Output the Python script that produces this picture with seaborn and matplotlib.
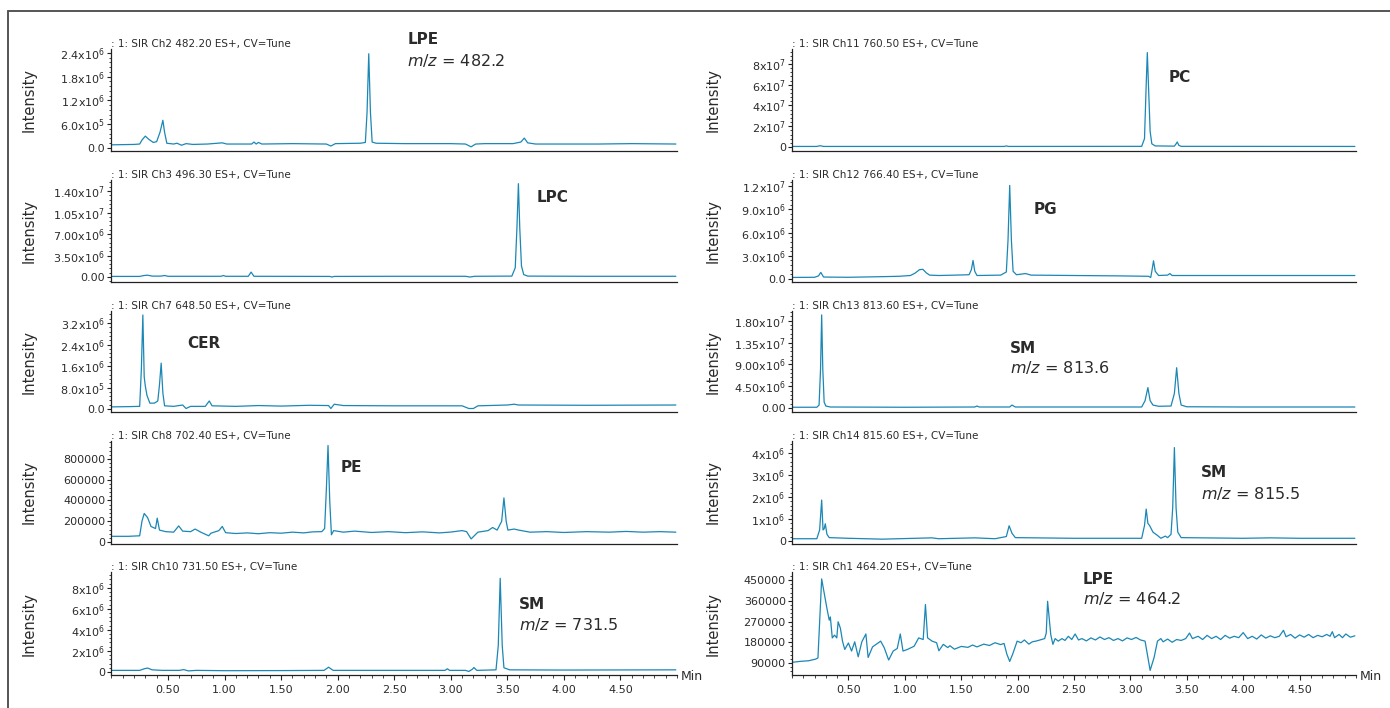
import matplotlib
matplotlib.use("Agg")
import matplotlib.pyplot as plt
from matplotlib.lines import Line2D
from matplotlib.ticker import FixedLocator, AutoMinorLocator, MultipleLocator
import seaborn as sns

# ---- chromatogram traces (time in min, intensity) ----
ch2_t = [0.0, 0.1, 0.2, 0.25, 0.27, 0.30, 0.33, 0.37, 0.40, 0.43, 0.455, 0.47, 0.49, 0.55, 0.58, 0.62,
         0.66, 0.72, 0.85, 0.98, 1.02, 1.24, 1.26, 1.28, 1.30, 1.33, 1.6, 1.9, 1.94, 1.98, 2.2, 2.245,
         2.26, 2.275, 2.29, 2.305, 2.34, 2.6, 3.0, 3.13, 3.18, 3.22, 3.3, 3.55, 3.62, 3.65, 3.68, 3.75,
         4.0, 4.3, 4.6, 4.99]
ch2_i = [0.08e6, 0.085e6, 0.09e6, 0.1e6, 0.2e6, 0.30e6, 0.22e6, 0.14e6, 0.16e6, 0.40e6, 0.70e6, 0.40e6,
         0.12e6, 0.10e6, 0.12e6, 0.07e6, 0.11e6, 0.09e6, 0.10e6, 0.13e6, 0.10e6, 0.10e6, 0.15e6, 0.10e6,
         0.14e6, 0.10e6, 0.11e6, 0.10e6, 0.05e6, 0.11e6, 0.12e6, 0.14e6, 0.9e6, 2.38e6, 0.9e6, 0.15e6,
         0.12e6, 0.11e6, 0.11e6, 0.10e6, 0.03e6, 0.10e6, 0.11e6, 0.11e6, 0.15e6, 0.25e6, 0.13e6, 0.10e6,
         0.10e6, 0.10e6, 0.11e6, 0.10e6]

ch3_t = [0.0, 0.25, 0.29, 0.32, 0.36, 0.44, 0.47, 0.50, 0.97, 0.99, 1.01, 1.21, 1.235, 1.26, 1.93, 1.95,
         1.97, 2.5, 3.13, 3.17, 3.21, 3.54, 3.57, 3.585, 3.598, 3.61, 3.625, 3.645, 3.68, 4.2, 4.99]
ch3_i = [0.1e6, 0.1e6, 0.25e6, 0.3e6, 0.15e6, 0.15e6, 0.25e6, 0.12e6, 0.12e6, 0.25e6, 0.12e6, 0.12e6,
         0.8e6, 0.12e6, 0.1e6, 0.0, 0.1e6, 0.12e6, 0.12e6, 0.0, 0.12e6, 0.15e6, 1.5e6, 8e6, 1.52e7, 8e6,
         1.8e6, 0.4e6, 0.15e6, 0.12e6, 0.12e6]

ch7_t = [0.0, 0.15, 0.25, 0.265, 0.278, 0.29, 0.30, 0.315, 0.34, 0.38, 0.41, 0.425, 0.44, 0.455, 0.47,
         0.55, 0.63, 0.66, 0.70, 0.83, 0.865, 0.89, 1.1, 1.30, 1.5, 1.75, 1.92, 1.94, 1.97, 2.05, 2.5,
         3.1, 3.16, 3.2, 3.24, 3.5, 3.56, 3.6, 4.2, 4.99]
ch7_i = [0.08e6, 0.09e6, 0.1e6, 1.5e6, 3.5e6, 1.2e6, 0.85e6, 0.5e6, 0.22e6, 0.22e6, 0.3e6, 0.9e6, 1.71e6,
         0.6e6, 0.12e6, 0.1e6, 0.15e6, 0.02e6, 0.1e6, 0.1e6, 0.3e6, 0.12e6, 0.1e6, 0.13e6, 0.11e6, 0.14e6,
         0.13e6, 0.02e6, 0.18e6, 0.13e6, 0.12e6, 0.12e6, 0.02e6, 0.02e6, 0.12e6, 0.15e6, 0.18e6, 0.15e6,
         0.14e6, 0.15e6]

ch8_t = [0.0, 0.15, 0.25, 0.27, 0.29, 0.32, 0.35, 0.39, 0.405, 0.425, 0.48, 0.55, 0.595, 0.63, 0.70,
         0.74, 0.79, 0.86, 0.88, 0.95, 0.98, 1.01, 1.1, 1.2, 1.3, 1.4, 1.5, 1.6, 1.7, 1.78, 1.86, 1.885,
         1.90, 1.915, 1.93, 1.945, 1.965, 2.05, 2.15, 2.3, 2.45, 2.6, 2.75, 2.9, 3.0, 3.1, 3.14, 3.18,
         3.24, 3.33, 3.37, 3.41, 3.45, 3.47, 3.49, 3.505, 3.56, 3.6, 3.7, 3.85, 4.0, 4.2, 4.4, 4.55, 4.7,
         4.85, 4.99]
ch8_i = [55e3, 55e3, 60e3, 200e3, 275e3, 235e3, 150e3, 130e3, 230e3, 115e3, 100e3, 95e3, 155e3, 105e3,
         100e3, 125e3, 95e3, 60e3, 85e3, 110e3, 150e3, 90e3, 82e3, 88e3, 80e3, 90e3, 85e3, 95e3, 88e3,
         98e3, 100e3, 130e3, 500e3, 930e3, 400e3, 70e3, 110e3, 95e3, 105e3, 92e3, 100e3, 90e3, 98e3,
         88e3, 96e3, 110e3, 100e3, 30e3, 95e3, 110e3, 140e3, 115e3, 200e3, 425e3, 200e3, 115e3, 125e3,
         115e3, 95e3, 100e3, 92e3, 100e3, 95e3, 102e3, 95e3, 100e3, 95e3]

ch10_t = [0.0, 0.25, 0.29, 0.32, 0.36, 0.45, 0.6, 0.64, 0.68, 0.75, 1.0, 1.5, 1.88, 1.92, 1.96, 2.5,
          2.95, 2.97, 2.99, 3.13, 3.16, 3.19, 3.205, 3.23, 3.40, 3.42, 3.437, 3.455, 3.47, 3.52, 4.0, 4.99]
ch10_i = [0.15e6, 0.15e6, 0.3e6, 0.37e6, 0.2e6, 0.15e6, 0.15e6, 0.22e6, 0.1e6, 0.15e6, 0.12e6, 0.13e6,
          0.15e6, 0.45e6, 0.15e6, 0.15e6, 0.15e6, 0.3e6, 0.15e6, 0.15e6, 0.05e6, 0.25e6, 0.42e6, 0.15e6,
          0.2e6, 2.5e6, 8.9e6, 2.5e6, 0.4e6, 0.2e6, 0.18e6, 0.2e6]

ch11_t = [0.0, 0.22, 0.25, 0.28, 1.88, 1.90, 1.92, 3.10, 3.125, 3.14, 3.15, 3.16, 3.175, 3.19, 3.22,
          3.39, 3.405, 3.415, 3.43, 3.45, 4.99]
ch11_i = [0.5e6, 0.5e6, 1.2e6, 0.5e6, 0.5e6, 1.0e6, 0.5e6, 0.6e6, 8e6, 6e7, 9.1e7, 6e7, 1.5e7, 3e6, 1e6,
          0.8e6, 3e6, 4.8e6, 1.5e6, 0.6e6, 0.5e6]

ch12_t = [0.0, 0.2, 0.235, 0.255, 0.28, 0.5, 0.8, 0.95, 1.05, 1.09, 1.13, 1.16, 1.19, 1.22, 1.30, 1.45,
          1.57, 1.59, 1.605, 1.62, 1.64, 1.85, 1.90, 1.915, 1.93, 1.945, 1.96, 1.99, 2.07, 2.12, 2.5, 2.9,
          3.16, 3.18, 3.19, 3.205, 3.22, 3.25, 3.33, 3.35, 3.37, 3.8, 4.3, 4.99]
ch12_i = [0.2e6, 0.22e6, 0.4e6, 0.85e6, 0.25e6, 0.22e6, 0.3e6, 0.35e6, 0.45e6, 0.75e6, 1.2e6, 1.25e6,
          0.8e6, 0.5e6, 0.45e6, 0.5e6, 0.55e6, 1.2e6, 2.4e6, 1.0e6, 0.45e6, 0.5e6, 0.9e6, 5e6, 1.21e7,
          5e6, 1.0e6, 0.55e6, 0.7e6, 0.5e6, 0.45e6, 0.4e6, 0.35e6, 0.2e6, 1.0e6, 2.35e6, 1.0e6, 0.45e6,
          0.5e6, 0.7e6, 0.45e6, 0.45e6, 0.45e6, 0.45e6]

ch13_t = [0.0, 0.22, 0.24, 0.253, 0.263, 0.273, 0.285, 0.30, 0.34, 1.0, 1.62, 1.64, 1.66, 1.93, 1.95,
          1.98, 3.10, 3.13, 3.155, 3.175, 3.20, 3.25, 3.36, 3.39, 3.41, 3.43, 3.45, 3.5, 4.0, 4.99]
ch13_i = [0.15e6, 0.15e6, 0.6e6, 8e6, 1.92e7, 8e6, 1.2e6, 0.4e6, 0.2e6, 0.15e6, 0.2e6, 0.4e6, 0.2e6,
          0.2e6, 0.6e6, 0.2e6, 0.2e6, 1.5e6, 4.2e6, 1.5e6, 0.6e6, 0.35e6, 0.4e6, 3e6, 8.3e6, 3e6, 0.6e6,
          0.25e6, 0.2e6, 0.2e6]

ch14_t = [0.0, 0.22, 0.245, 0.263, 0.275, 0.285, 0.295, 0.31, 0.33, 0.5, 0.8, 1.24, 1.3, 1.62, 1.8, 1.9,
          1.925, 1.95, 1.98, 2.5, 3.1, 3.125, 3.14, 3.155, 3.17, 3.20, 3.24, 3.27, 3.31, 3.33, 3.36, 3.375,
          3.39, 3.405, 3.42, 3.45, 4.0, 4.24, 4.5, 4.99]
ch14_i = [0.1e6, 0.1e6, 0.5e6, 1.86e6, 0.5e6, 0.55e6, 0.78e6, 0.3e6, 0.15e6, 0.12e6, 0.08e6, 0.14e6,
          0.1e6, 0.14e6, 0.1e6, 0.2e6, 0.69e6, 0.35e6, 0.15e6, 0.12e6, 0.12e6, 0.7e6, 1.45e6, 0.8e6,
          0.7e6, 0.4e6, 0.25e6, 0.12e6, 0.22e6, 0.15e6, 0.3e6, 1.5e6, 4.25e6, 1.5e6, 0.4e6, 0.15e6,
          0.12e6, 0.14e6, 0.12e6, 0.12e6]

ch1_t = [0.0, 0.07, 0.15, 0.21, 0.23, 0.263, 0.31, 0.33, 0.34, 0.357, 0.377, 0.397, 0.409, 0.429, 0.448,
         0.468, 0.5, 0.528, 0.556, 0.587, 0.619, 0.655, 0.675, 0.714, 0.746, 0.786, 0.817, 0.857, 0.897,
         0.933, 0.96, 0.984, 1.024, 1.083, 1.123, 1.163, 1.183, 1.202, 1.242, 1.282, 1.302, 1.341, 1.381,
         1.40, 1.44, 1.50, 1.56, 1.60, 1.64, 1.70, 1.75, 1.80, 1.85, 1.88, 1.905, 1.93, 1.956, 1.996,
         2.03, 2.06, 2.10, 2.13, 2.17, 2.21, 2.24, 2.254, 2.266, 2.294, 2.313, 2.333, 2.36, 2.393, 2.42,
         2.45, 2.48, 2.51, 2.54, 2.57, 2.61, 2.65, 2.69, 2.73, 2.77, 2.81, 2.85, 2.89, 2.93, 2.97, 3.01,
         3.05, 3.09, 3.13, 3.15, 3.175, 3.21, 3.24, 3.27, 3.29, 3.33, 3.37, 3.41, 3.45, 3.49, 3.524, 3.55,
         3.6, 3.64, 3.68, 3.72, 3.76, 3.80, 3.84, 3.88, 3.92, 3.96, 4.0, 4.04, 4.08, 4.12, 4.16, 4.20,
         4.24, 4.28, 4.32, 4.357, 4.38, 4.42, 4.46, 4.50, 4.54, 4.58, 4.62, 4.66, 4.70, 4.74, 4.77, 4.79,
         4.81, 4.85, 4.88, 4.91, 4.95, 4.99]
ch1_i = [93e3, 97e3, 100e3, 107e3, 112e3, 455e3, 326e3, 276e3, 290e3, 199e3, 211e3, 199e3, 269e3, 241e3,
         184e3, 149e3, 177e3, 142e3, 182e3, 117e3, 182e3, 216e3, 114e3, 160e3, 171e3, 185e3, 157e3,
         103e3, 142e3, 153e3, 216e3, 142e3, 149e3, 163e3, 199e3, 192e3, 344e3, 199e3, 185e3, 178e3,
         143e3, 171e3, 157e3, 165e3, 150e3, 162e3, 158e3, 168e3, 160e3, 172e3, 166e3, 178e3, 170e3,
         175e3, 128e3, 97e3, 128e3, 185e3, 178e3, 190e3, 172e3, 182e3, 186e3, 192e3, 196e3, 220e3,
         358e3, 213e3, 171e3, 196e3, 185e3, 196e3, 188e3, 206e3, 192e3, 216e3, 190e3, 196e3, 186e3,
         199e3, 190e3, 203e3, 192e3, 200e3, 188e3, 196e3, 186e3, 199e3, 192e3, 201e3, 190e3, 185e3,
         128e3, 58e3, 114e3, 185e3, 196e3, 182e3, 194e3, 180e3, 192e3, 188e3, 196e3, 220e3, 196e3,
         206e3, 192e3, 210e3, 196e3, 206e3, 192e3, 210e3, 198e3, 206e3, 200e3, 222e3, 196e3, 206e3,
         194e3, 212e3, 198e3, 208e3, 200e3, 206e3, 232e3, 204e3, 214e3, 198e3, 212e3, 202e3, 214e3,
         200e3, 210e3, 204e3, 214e3, 206e3, 226e3, 200e3, 214e3, 200e3, 216e3, 202e3, 208e3]

# ---- axis ticks / labels ----
ch2_ticks, ch2_labels = [0, 6e5, 1.2e6, 1.8e6, 2.4e6], ["0.0", "6.0x10^5", "1.2x10^6", "1.8x10^6", "2.4x10^6"]
ch3_ticks, ch3_labels = [0, 3.5e6, 7e6, 1.05e7, 1.4e7], ["0.00", "3.50x10^6", "7.00x10^6", "1.05x10^7", "1.40x10^7"]
ch7_ticks, ch7_labels = [0, 8e5, 1.6e6, 2.4e6, 3.2e6], ["0.0", "8.0x10^5", "1.6x10^6", "2.4x10^6", "3.2x10^6"]
ch8_ticks, ch8_labels = [0, 2e5, 4e5, 6e5, 8e5], ["0", "200000", "400000", "600000", "800000"]
ch10_ticks, ch10_labels = [0, 2e6, 4e6, 6e6, 8e6], ["0", "2x10^6", "4x10^6", "6x10^6", "8x10^6"]
ch11_ticks, ch11_labels = [0, 2e7, 4e7, 6e7, 8e7], ["0", "2x10^7", "4x10^7", "6x10^7", "8x10^7"]
ch12_ticks, ch12_labels = [0, 3e6, 6e6, 9e6, 1.2e7], ["0.0", "3.0x10^6", "6.0x10^6", "9.0x10^6", "1.2x10^7"]
ch13_ticks, ch13_labels = [0, 4.5e6, 9e6, 1.35e7, 1.8e7], ["0.00", "4.50x10^6", "9.00x10^6", "1.35x10^7", "1.80x10^7"]
ch14_ticks, ch14_labels = [0, 1e6, 2e6, 3e6, 4e6], ["0", "1x10^6", "2x10^6", "3x10^6", "4x10^6"]
ch1_ticks, ch1_labels = [90000, 180000, 270000, 360000, 450000], ["90000", "180000", "270000", "360000", "450000"]

time_ticks = [0.5, 1.0, 1.5, 2.0, 2.5, 3.0, 3.5, 4.0, 4.5]

TRACE = "#1b87b5"
TEXT = "#2b2b2b"


def sup(label):
    if "^" in label:
        base, exp = label.split("^")
        return base + r"$^{\mathregular{" + exp + "}}$"
    return label


# (column, row, title, t, i, ticks, labels, ylim, notes)
# notes: (x, y, text, bold) in axes fraction
panels = [
    (0, 0, ": 1: SIR Ch2 482.20 ES+, CV=Tune", ch2_t, ch2_i, ch2_ticks, ch2_labels, (-0.076e6, 2.5e6),
     [(0.523, 1.098, "LPE", True), (0.523, 0.892, r"$m/z$ = 482.2", False)]),
    (0, 1, ": 1: SIR Ch3 496.30 ES+, CV=Tune", ch3_t, ch3_i, ch3_ticks, ch3_labels, (-0.81e6, 1.58e7),
     [(0.751, 0.824, "LPC", True)]),
    (0, 2, ": 1: SIR Ch7 648.50 ES+, CV=Tune", ch7_t, ch7_i, ch7_ticks, ch7_labels, (-0.11e6, 3.65e6),
     [(0.134, 0.683, "CER", True)]),
    (0, 3, ": 1: SIR Ch8 702.40 ES+, CV=Tune", ch8_t, ch8_i, ch8_ticks, ch8_labels, (-19e3, 9.73e5),
     [(0.406, 0.738, "PE", True)]),
    (0, 4, ": 1: SIR Ch10 731.50 ES+, CV=Tune", ch10_t, ch10_i, ch10_ticks, ch10_labels, (-0.29e6, 9.5e6),
     [(0.72, 0.68, "SM", True), (0.72, 0.495, r"$m/z$ = 731.5", False)]),
    (1, 0, ": 1: SIR Ch11 760.50 ES+, CV=Tune", ch11_t, ch11_i, ch11_ticks, ch11_labels, (-3.9e6, 9.45e7),
     [(0.667, 0.725, "PC", True)]),
    (1, 1, ": 1: SIR Ch12 766.40 ES+, CV=Tune", ch12_t, ch12_i, ch12_ticks, ch12_labels, (-0.39e6, 1.28e7),
     [(0.429, 0.706, "PG", True)]),
    (1, 2, ": 1: SIR Ch13 813.60 ES+, CV=Tune", ch13_t, ch13_i, ch13_ticks, ch13_labels, (-0.83e6, 2.0e7),
     [(0.387, 0.624, "SM", True), (0.387, 0.436, r"$m/z$ = 813.6", False)]),
    (1, 3, ": 1: SIR Ch14 815.60 ES+, CV=Tune", ch14_t, ch14_i, ch14_ticks, ch14_labels, (-0.14e6, 4.55e6),
     [(0.725, 0.696, "SM", True), (0.725, 0.49, r"$m/z$ = 815.5", False)]),
    (1, 4, ": 1: SIR Ch1 464.20 ES+, CV=Tune", ch1_t, ch1_i, ch1_ticks, ch1_labels, (38000, 485000),
     [(0.516, 0.932, "LPE", True), (0.516, 0.738, r"$m/z$ = 464.2", False)]),
]

sns.set_theme(style="ticks")
plt.rcParams["font.family"] = ["DejaVu Sans"]
plt.rcParams["mathtext.fontset"] = "dejavusans"

W, H = 1390, 708
fig = plt.figure(figsize=(W / 100, H / 100), dpi=100)
col_x = [(111.4, 677.0), (792.0, 1356.0)]
row_y = [(49, 151), (180, 282), (311, 412), (441, 544), (572, 675)]
ylab_x = [-0.133, -0.126]

for col, row, title, t, inten, ticks, labels, ylim, notes in panels:
    x0, x1 = col_x[col]
    yt, yb = row_y[row]
    ax = fig.add_axes([x0 / W, 1 - yb / H, (x1 - x0) / W, (yb - yt) / H])
    sns.lineplot(x=t, y=inten, ax=ax, color=TRACE, linewidth=0.9, estimator=None)
    ax.set_xlim(0, 5.0)
    ax.set_ylim(*ylim)
    sns.despine(ax=ax)
    for s in ("left", "bottom"):
        ax.spines[s].set_color("#222222")
        ax.spines[s].set_linewidth(0.9)

    ax.yaxis.set_major_locator(FixedLocator(ticks))
    ax.set_yticklabels([sup(l) for l in labels])
    ax.yaxis.set_minor_locator(AutoMinorLocator(5))
    ax.tick_params(axis="y", which="major", direction="out", length=3, width=0.8,
                   labelsize=8, colors="#222222", labelcolor=TEXT, pad=1.5)
    ax.tick_params(axis="y", which="minor", direction="out", length=1.6, width=0.6, colors="#222222")

    if row == 4:
        ax.xaxis.set_major_locator(FixedLocator(time_ticks))
        ax.set_xticklabels([f"{v:.2f}" for v in time_ticks])
        ax.xaxis.set_minor_locator(MultipleLocator(0.1))
        ax.tick_params(axis="x", which="major", direction="out", length=3.5, width=0.8,
                       labelsize=8, colors="#222222", labelcolor=TEXT, pad=4)
        ax.tick_params(axis="x", which="minor", direction="out", length=2, width=0.6, colors="#222222")
        fig.text((x1 + 4) / W, 1 - 677 / H, "Min", fontsize=9, color=TEXT, ha="left", va="center")
    else:
        ax.tick_params(axis="x", which="both", bottom=False, labelbottom=False)

    ax.set_xlabel("")
    ax.set_ylabel("Intensity", fontsize=10.5, color=TEXT)
    ax.yaxis.set_label_coords(ylab_x[col], 0.5)
    ax.set_title(title, loc="left", fontsize=7.5, pad=1.5, color=TEXT)

    for nx, ny, txt, bold in notes:
        if bold:
            ax.text(nx, ny, txt, transform=ax.transAxes, fontsize=11, fontweight="bold",
                    color=TEXT, ha="left", va="center", clip_on=False)
        else:
            ax.text(nx, ny, txt, transform=ax.transAxes, fontsize=11.5,
                    color=TEXT, ha="left", va="center", clip_on=False)

# frame lines along the top and left edge
fig.add_artist(Line2D([8 / W, 1], [1 - 11 / H, 1 - 11 / H], color="#555555", lw=1.4))
fig.add_artist(Line2D([8 / W, 8 / W], [0, 1 - 11 / H], color="#555555", lw=1.4))

fig.savefig("out.png", dpi=100)
